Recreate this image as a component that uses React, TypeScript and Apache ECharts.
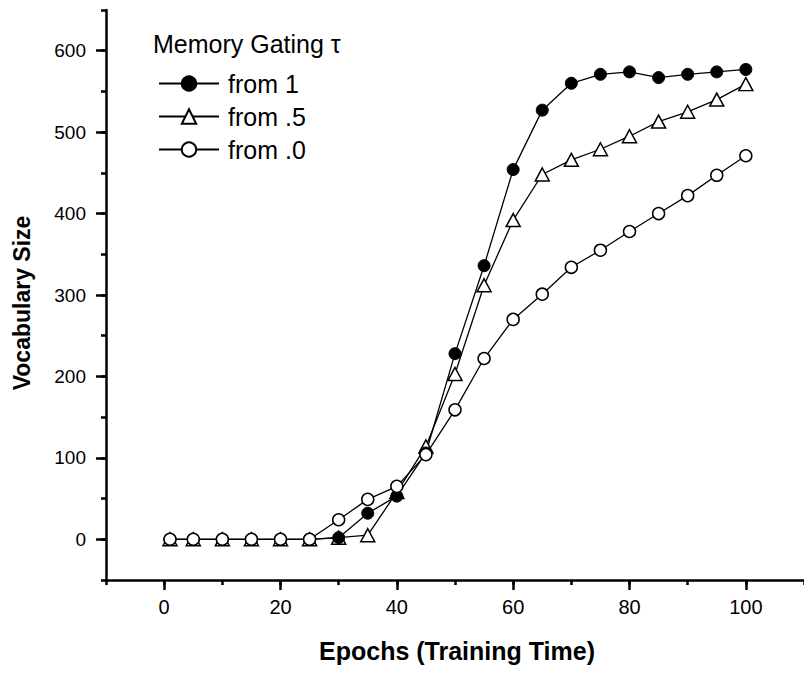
import React, { useEffect, useRef } from 'react';
import * as echarts from 'echarts';

const epochs = [1, 5, 10, 15, 20, 25, 30, 35, 40, 45, 50, 55, 60, 65, 70, 75, 80, 85, 90, 95, 100];
const from1 = [0, 0, 0, 0, 0, 0, 2, 32, 53, 106, 228, 336, 454, 527, 560, 571, 574, 567, 571, 574, 577];
const fromHalf = [0, 0, 0, 0, 0, 0, 2, 5, 58, 114, 203, 312, 392, 448, 466, 479, 495, 513, 525, 540, 559];
const fromZero = [0, 0, 0, 0, 0, 0, 24, 49, 65, 104, 159, 222, 270, 301, 334, 355, 378, 400, 422, 447, 471];

const seriesNames = ['from 1', 'from .5', 'from .0'];
const xMajorTicks = [0, 20, 40, 60, 80, 100];
const yMajorTicks = [0, 100, 200, 300, 400, 500, 600];
const legendTitle = 'Memory Gating \u03c4';
const xTitle = 'Epochs (Training Time)';
const yTitle = 'Vocabulary Size';

const FONT = '"Liberation Sans", Arial, sans-serif';

export default function App() {
  const ref = useRef<HTMLDivElement>(null);

  useEffect(() => {
    if (!ref.current) return;
    const chart = echarts.init(ref.current, null, { renderer: 'svg' });
    const pts = (ys: number[]) => epochs.map((x, i) => [x, ys[i]]);
    const lineStyle = { color: '#000', width: 1.3 };
    const axisCommon = {
      type: 'value' as const,
      splitLine: { show: false },
    };
    chart.setOption({
      animation: false,
      backgroundColor: '#fff',
      grid: { left: 106, top: 10, width: 700, height: 570, containLabel: false },
      xAxis: [
        {
          ...axisCommon,
          position: 'bottom',
          min: -10,
          max: 110,
          axisLine: { show: true, onZero: false, lineStyle: { color: '#000', width: 2.5 } },
          axisTick: { show: true, length: 10, lineStyle: { color: '#000', width: 2.5 }, customValues: xMajorTicks },
          axisLabel: { show: true, customValues: xMajorTicks, fontSize: 20, color: '#000', fontFamily: FONT, margin: 17 },
        },
        {
          ...axisCommon,
          position: 'bottom',
          offset: 0,
          min: -10,
          max: 110,
          interval: 10,
          axisLine: { show: false, onZero: false },
          axisTick: { show: true, length: 5, lineStyle: { color: '#000', width: 2.5 } },
          axisLabel: { show: false },
        },
      ],
      yAxis: [
        {
          ...axisCommon,
          position: 'left',
          min: -50,
          max: 650,
          axisLine: { show: true, onZero: false, lineStyle: { color: '#000', width: 2.5 } },
          axisTick: { show: true, length: 10, lineStyle: { color: '#000', width: 2.5 }, customValues: yMajorTicks },
          axisLabel: { show: true, customValues: yMajorTicks, fontSize: 19, color: '#000', fontFamily: FONT, margin: 20 },
        },
        {
          ...axisCommon,
          position: 'left',
          offset: 0,
          min: -50,
          max: 650,
          interval: 50,
          axisLine: { show: false, onZero: false },
          axisTick: { show: true, length: 5, lineStyle: { color: '#000', width: 2.5 } },
          axisLabel: { show: false },
        },
      ],
      legend: {
        data: seriesNames,
        orient: 'vertical',
        left: 153,
        top: 66,
        itemWidth: 60,
        itemHeight: 18,
        itemGap: 8,
        selectedMode: false,
        textStyle: { fontSize: 25, lineHeight: 25, color: '#000', fontFamily: FONT, padding: [0, 0, 0, 4] },
      },
      graphic: [
        {
          type: 'text',
          left: 153,
          top: 31,
          style: { text: legendTitle, fontSize: 25, fill: '#000', fontFamily: FONT },
        },
        {
          type: 'text',
          x: 457,
          y: 651,
          style: { text: xTitle, fontSize: 25, fontWeight: 'bold', fill: '#000', fontFamily: FONT, align: 'center', verticalAlign: 'middle' },
        },
        {
          type: 'text',
          x: 22,
          y: 303,
          rotation: Math.PI / 2,
          style: { text: yTitle, fontSize: 23, fontWeight: 'bold', fill: '#000', fontFamily: FONT, align: 'center', verticalAlign: 'middle' },
        },
      ],
      series: [
        {
          name: 'from .5',
          type: 'line',
          data: pts(fromHalf),
          symbol: 'triangle',
          symbolSize: [14, 13],
          itemStyle: { color: '#fff', borderColor: '#000', borderWidth: 1.5 },
          lineStyle,
        },
        {
          name: 'from 1',
          type: 'line',
          data: pts(from1),
          symbol: 'circle',
          symbolSize: 12,
          itemStyle: { color: '#000', borderColor: '#000', borderWidth: 1 },
          lineStyle,
        },
        {
          name: 'from .0',
          type: 'line',
          data: pts(fromZero),
          symbol: 'circle',
          symbolSize: 12,
          itemStyle: { color: '#fff', borderColor: '#000', borderWidth: 1.5 },
          lineStyle,
        },
      ],
    });
    return () => chart.dispose();
  }, []);

  return (
    <div
      ref={ref}
      style={{ position: 'fixed', left: 0, top: 0, width: 804, height: 673, background: '#fff' }}
    />
  );
}
